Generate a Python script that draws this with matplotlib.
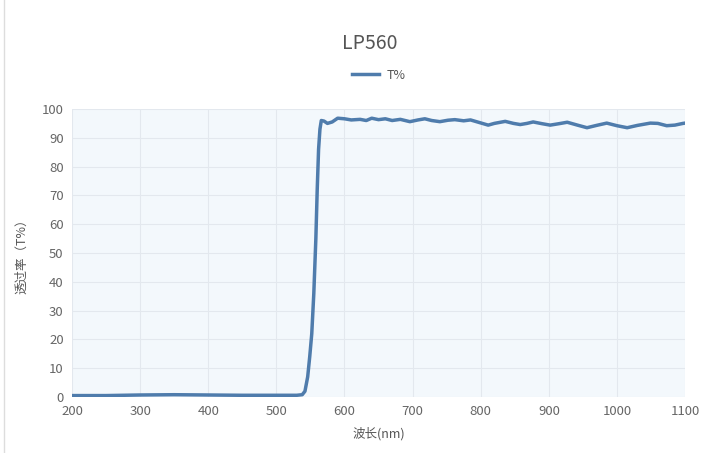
import matplotlib
matplotlib.use("Agg")
import matplotlib.pyplot as plt
from matplotlib.lines import Line2D

plt.rcParams['font.family'] = ['Noto Sans CJK SC', 'DejaVu Sans']

# transmission curve
wavelength = [200, 250, 300, 350, 400, 450, 500, 530, 538, 542, 546, 549, 552, 555,
              558, 560, 562, 564, 566, 570, 575, 582, 590, 600, 610, 623, 632, 640,
              650, 660, 670, 682, 696, 708, 718, 728, 740, 752, 762, 775, 785, 798,
              811, 820, 836, 848, 858, 868, 877, 890, 902, 915, 927, 942, 956, 970,
              985, 1000, 1015, 1030, 1049, 1060, 1073, 1085, 1097, 1100]
transmission = [0.5, 0.5, 0.7, 0.8, 0.7, 0.6, 0.6, 0.6, 0.8, 2, 7, 14, 22, 36,
                55, 72, 86, 93, 96, 95.8, 95.0, 95.5, 96.8, 96.6, 96.2, 96.4, 96.0, 96.8,
                96.3, 96.6, 96.0, 96.4, 95.6, 96.2, 96.6, 96.0, 95.6, 96.1, 96.3, 95.9, 96.2, 95.3,
                94.4, 95.0, 95.7, 95.0, 94.6, 95.0, 95.5, 94.9, 94.4, 94.9, 95.4, 94.4, 93.5, 94.3,
                95.1, 94.2, 93.5, 94.3, 95.1, 95.0, 94.2, 94.4, 95.0, 95.1]

x_ticks = [200, 300, 400, 500, 600, 700, 800, 900, 1000, 1100]
y_ticks = [0, 10, 20, 30, 40, 50, 60, 70, 80, 90, 100]

line_color = '#4f7cac'
text_color = '#555555'

fig = plt.figure(figsize=(7.07, 4.53), dpi=100)
ax = fig.add_axes([0.1018, 0.1236, 0.8672, 0.6358])
ax.set_facecolor('#f3f8fc')

ax.plot(wavelength, transmission, color=line_color, linewidth=2.5, solid_capstyle='round')

ax.set_xlim(200, 1100)
ax.set_ylim(0, 100)
ax.set_xticks(x_ticks)
ax.set_yticks(y_ticks)
ax.grid(True, color='#e3e8ee', linewidth=0.8)
ax.set_axisbelow(True)
for s in ax.spines.values():
    s.set_visible(False)
ax.tick_params(length=0, labelsize=9.5, colors='#666666', pad=6)

ax.set_xlabel('波长(nm)', fontsize=9, color=text_color, labelpad=6)
ax.set_ylabel('透过率（T%）', fontsize=9, color=text_color, labelpad=10)

fig.text(0.5235, 0.905, 'LP560', ha='center', va='center', fontsize=14, color=text_color)

handle = Line2D([0], [0], color=line_color, linewidth=2.5)
ax.legend([handle], ['T%'], loc='center', bbox_to_anchor=(0.5, 1.118), frameon=False,
          fontsize=9, labelcolor=text_color, handlelength=2.2, handletextpad=0.6)

# thin frame line at the left edge of the reference image
fig.add_artist(Line2D([0.005, 0.005], [0, 1], color='#dddddd', linewidth=1, transform=fig.transFigure))

fig.savefig('out.png', dpi=100)
